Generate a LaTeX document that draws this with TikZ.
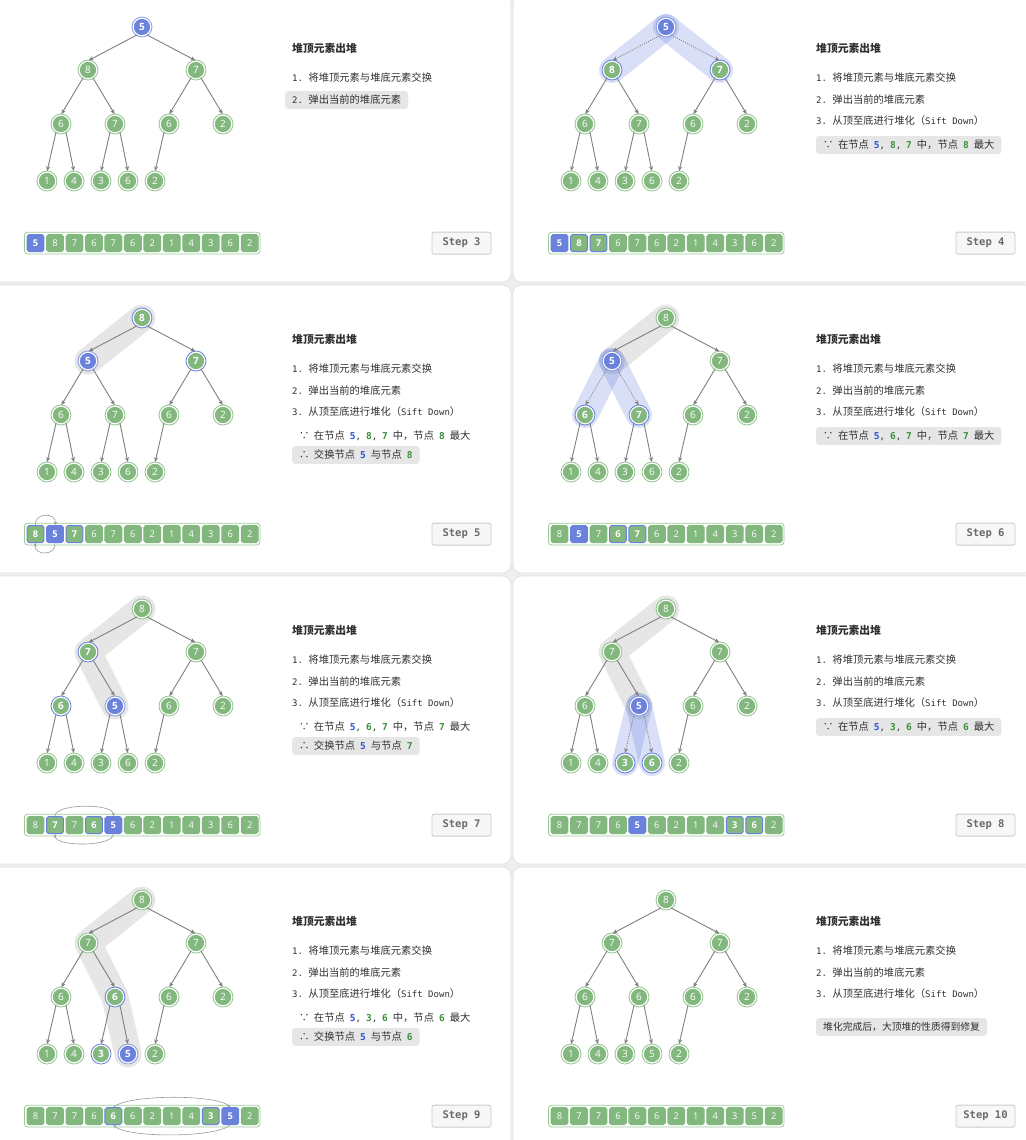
\documentclass[tikz,border=0pt]{standalone}
\usepackage{fontspec}
\setmainfont{Noto Sans CJK SC}
\newfontfamily\mono{DejaVu Sans Mono}
\newfontfamily\numfont{Open Sans}
\usetikzlibrary{arrows.meta}
\pgfdeclarelayer{card}
\pgfdeclarelayer{bg}
\pgfsetlayers{card,bg,main}
\definecolor{G}{HTML}{82B77E}
\definecolor{GR}{HTML}{93C48F}
\definecolor{B}{HTML}{6A82DC}
\definecolor{BR}{HTML}{6A82DC}
\definecolor{BL}{HTML}{8A9DE4}
\definecolor{txt}{HTML}{303030}
\definecolor{hlbg}{HTML}{E6E6E6}
\definecolor{tblue}{HTML}{2D55D8}
\definecolor{tgreen}{HTML}{3E8F3E}
\definecolor{edgec}{HTML}{7F7F7F}
\definecolor{pagebg}{HTML}{EFEFEF}
\definecolor{cardline}{HTML}{E0E0E0}
\definecolor{gbandc}{HTML}{E6E6E6}
\definecolor{arrline}{HTML}{9CCB98}
\definecolor{stepfill}{HTML}{F7F7F7}
\definecolor{stepline}{HTML}{CCCCCC}
\definecolor{steptext}{HTML}{6A6A6A}
\definecolor{swapc}{HTML}{9A9A9A}
\def\PX{{142,88,196,61,115,169,223,47,74,101,128,155}}
\def\PY{{27,70,70,124,124,124,124,181,181,181,181,181}}
\newcommand\setkind[1]{%
 \if#1g\def\kfill{G}\def\kring{GR}\def\kcell{G}\def\kfont{}\fi
 \if#1r\def\kfill{G}\def\kring{BR}\def\kcell{B}\def\kfont{\bfseries}\fi
 \if#1b\def\kfill{B}\def\kring{BL}\def\kcell{B}\def\kfont{\bfseries}\fi}
\newcommand\ms[1]{{\mono\fontsize{9}{10}\selectfont #1}}
\newcommand\gapsp{\hspace{5pt}}
\newcommand\numB[1]{{\mono\fontsize{9.5}{10}\selectfont\bfseries\color{tblue}#1}}
\newcommand\numG[1]{{\mono\fontsize{9.5}{10}\selectfont\bfseries\color{tgreen}#1}}
\newcommand\LA{\ms{1.\ }将堆顶元素与堆底元素交换}
\newcommand\LB{\ms{2.\ }弹出当前的堆底元素}
\newcommand\LC{\ms{3.\ }从顶至底进行堆化（\ms{Sift Down}）}
\newcommand\becl[4]{∵\hspace{4.5pt}在节点\gapsp\numB{#1}\ms{,}\gapsp\numG{#2}\ms{,}\gapsp\numG{#3}\gapsp 中，节点\gapsp\numG{#4}\gapsp 最大}
\newcommand\thrl[2]{∴\hspace{4.5pt}交换节点\gapsp\numB{#1}\gapsp 与节点\gapsp\numG{#2}}
\newcommand\panel[7]{%
\foreach \v/\k [count=\i from 0] in {#2}{%
  \setkind{\k}%
  \pgfmathsetmacro\xx{\PX[\i]}%
  \pgfmathsetmacro\yy{\PY[\i]}%
  \node[tnode,fill=\kfill,font={\numfont\fontsize{10}{10}\selectfont\kfont}] (#1n\i) at (\xx,\yy) {\v};
  \draw[draw=\kring,line width=0.8pt] (#1n\i.center) circle[radius=10pt];
}
\foreach \c in {1,...,11}{%
  \pgfmathtruncatemacro\pp{(\c-1)/2}%
  \pgfmathtruncatemacro\lft{mod(\c,2)}%
  \ifnum\lft=1 \def\pang{-122}\else\def\pang{-58}\fi
  \ifnum\c=#4\relax \draw[dedge] (#1n\pp.\pang) -- (#1n\c.north);%
  \else\ifnum\c=#5\relax \draw[dedge] (#1n\pp.\pang) -- (#1n\c.north);%
  \else \draw[edge] (#1n\pp.\pang) -- (#1n\c.north);\fi\fi
}
\node[arrbox] (#1arr) at (142.2,243.1) {};
\foreach \v/\k [count=\i from 0] in {#3}{%
  \setkind{\k}%
  \pgfmathsetmacro\xx{35.5+19.47*\i}%
  \node[cell,fill=\kfill,draw=\kcell,font={\numfont\fontsize{9.3}{10}\selectfont\kfont}] (#1c\i) at (\xx,243.1) {\v};
}
\node[steplbl] (#1s) at (461.5,243.1) {Step #6};
\node[title] (#1t) at (292,48) {堆顶元素出堆};
\node[tl] (#1a) at (285,78) {\LA};
\node[tl#7] (#1b) at (285,100) {\LB};
}
\begin{document}
\begin{tikzpicture}[x=1pt,y=-1pt,
  tnode/.style={circle,minimum size=17.5pt,inner sep=0pt,draw=white,line width=1pt,text=white},
  cell/.style={rectangle,minimum size=16.8pt,inner sep=0pt,rounded corners=1.8pt,line width=1pt,text=white},
  arrbox/.style={draw=arrline,fill=white,line width=0.8pt,rounded corners=3pt,minimum width=235.5pt,minimum height=21.7pt,inner sep=0pt},
  edge/.style={draw=edgec,line width=0.9pt,-{Stealth[length=5pt,width=4pt]},shorten >=0.6pt},
  dedge/.style={edge,line width=0.8pt,dash pattern=on 1pt off 1.3pt},
  steplbl/.style={draw=stepline,fill=stepfill,line width=0.8pt,rounded corners=2pt,minimum width=59pt,minimum height=22pt,inner sep=0pt,text=steptext,font={\mono\fontsize{10.5}{12}\selectfont\bfseries}},
  title/.style={anchor=west,inner sep=0pt,text=txt,font={\fontsize{10.8}{12}\selectfont\bfseries}},
  tl/.style={anchor=west,inner xsep=7pt,inner ysep=3.6pt,text height=8.4pt,text depth=2.2pt,rounded corners=3pt,text=txt,font={\fontsize{10.3}{12}\selectfont}},
  hl/.style={fill=hlbg},
  gband/.style={draw=gbandc,line width=27pt,line cap=round,line join=round},
  bband/.style={draw=B,opacity=0.25,line width=26pt,line cap=round},
  swp/.style={draw=swapc,line width=0.6pt,-{Stealth[length=3.5pt,width=3pt]}},
  card/.style={fill=white,draw=cardline,line width=0.8pt,rounded corners=8pt}]
\useasboundingbox (0,0) rectangle (1025,1140);
\begin{pgfonlayer}{card}
\fill[pagebg] (0,0) rectangle (1025,1140);
\foreach \r in {0,1,2,3}{
  \draw[card] (-10,291*\r-6) rectangle (511,291*\r+282);
  \draw[card] (513,291*\r-6) rectangle (1035,291*\r+282);
}
\end{pgfonlayer}
% ---------- Step 3
\begin{scope}[shift={(0,0)}]
\panel{pa}{5/b,8/g,7/g,6/g,7/g,6/g,2/g,1/g,4/g,3/g,6/g,2/g}{5/b,8/g,7/g,6/g,7/g,6/g,2/g,1/g,4/g,3/g,6/g,2/g}{-1}{-1}{3}{,hl}
\end{scope}
% ---------- Step 4
\begin{scope}[shift={(524,0)}]
\panel{pb}{5/b,8/r,7/r,6/g,7/g,6/g,2/g,1/g,4/g,3/g,6/g,2/g}{5/b,8/r,7/r,6/g,7/g,6/g,2/g,1/g,4/g,3/g,6/g,2/g}{1}{2}{4}{}
\node[tl] (pbc) at (285,121) {\LC};
\node[tl,hl] (pbd) at (292,145) {\becl{5}{8}{7}{8}};
\begin{pgfonlayer}{bg}
\draw[bband] (pbn0.center) -- (pbn1.center);
\draw[bband] (pbn0.center) -- (pbn2.center);
\end{pgfonlayer}
\end{scope}
% ---------- Step 5
\begin{scope}[shift={(0,291)}]
\panel{pc}{8/r,5/b,7/r,6/g,7/g,6/g,2/g,1/g,4/g,3/g,6/g,2/g}{8/r,5/b,7/r,6/g,7/g,6/g,2/g,1/g,4/g,3/g,6/g,2/g}{-1}{-1}{5}{}
\node[tl] (pcc) at (285,121) {\LC};
\node[tl] (pcd) at (292,145) {\becl{5}{8}{7}{8}};
\node[tl,hl] (pce) at (292,164) {\thrl{5}{8}};
\begin{pgfonlayer}{bg}
\draw[gband] (pcn0.center) -- (pcn1.center);
\end{pgfonlayer}
\draw[swp] (pcc0.north) .. controls +(-2,-13) and +(2,-13) .. (pcc1.north);
\draw[swp] (pcc1.south) .. controls +(2,13) and +(-2,13) .. (pcc0.south);
\end{scope}
% ---------- Step 6
\begin{scope}[shift={(524,291)}]
\panel{pd}{8/g,5/b,7/g,6/r,7/r,6/g,2/g,1/g,4/g,3/g,6/g,2/g}{8/g,5/b,7/g,6/r,7/r,6/g,2/g,1/g,4/g,3/g,6/g,2/g}{3}{4}{6}{}
\node[tl] (pdc) at (285,121) {\LC};
\node[tl,hl] (pdd) at (292,145) {\becl{5}{6}{7}{7}};
\begin{pgfonlayer}{bg}
\draw[gband] (pdn0.center) -- (pdn1.center);
\draw[bband] (pdn1.center) -- (pdn3.center);
\draw[bband] (pdn1.center) -- (pdn4.center);
\end{pgfonlayer}
\end{scope}
% ---------- Step 7
\begin{scope}[shift={(0,582)}]
\panel{pe}{8/g,7/r,7/g,6/r,5/b,6/g,2/g,1/g,4/g,3/g,6/g,2/g}{8/g,7/r,7/g,6/r,5/b,6/g,2/g,1/g,4/g,3/g,6/g,2/g}{-1}{-1}{7}{}
\node[tl] (pec) at (285,121) {\LC};
\node[tl] (ped) at (292,145) {\becl{5}{6}{7}{7}};
\node[tl,hl] (pee) at (292,164) {\thrl{5}{7}};
\begin{pgfonlayer}{bg}
\draw[gband] (pen0.center) -- (pen1.center) -- (pen4.center);
\end{pgfonlayer}
\draw[swp] (pec1.north) .. controls +(0,-13) and +(0,-13) .. (pec4.north);
\draw[swp] (pec4.south) .. controls +(0,13) and +(0,13) .. (pec1.south);
\end{scope}
% ---------- Step 8
\begin{scope}[shift={(524,582)}]
\panel{pf}{8/g,7/g,7/g,6/g,5/b,6/g,2/g,1/g,4/g,3/r,6/r,2/g}{8/g,7/g,7/g,6/g,5/b,6/g,2/g,1/g,4/g,3/r,6/r,2/g}{9}{10}{8}{}
\node[tl] (pfc) at (285,121) {\LC};
\node[tl,hl] (pfd) at (292,145) {\becl{5}{3}{6}{6}};
\begin{pgfonlayer}{bg}
\draw[gband] (pfn0.center) -- (pfn1.center) -- (pfn4.center);
\draw[bband] (pfn4.center) -- (pfn9.center);
\draw[bband] (pfn4.center) -- (pfn10.center);
\end{pgfonlayer}
\end{scope}
% ---------- Step 9
\begin{scope}[shift={(0,873)}]
\panel{pg}{8/g,7/g,7/g,6/g,6/r,6/g,2/g,1/g,4/g,3/r,5/b,2/g}{8/g,7/g,7/g,6/g,6/r,6/g,2/g,1/g,4/g,3/r,5/b,2/g}{-1}{-1}{9}{}
\node[tl] (pgc) at (285,121) {\LC};
\node[tl] (pgd) at (292,145) {\becl{5}{3}{6}{6}};
\node[tl,hl] (pge) at (292,164) {\thrl{5}{6}};
\begin{pgfonlayer}{bg}
\draw[gband] (pgn0.center) -- (pgn1.center) -- (pgn4.center) -- (pgn10.center);
\end{pgfonlayer}
\draw[swp] (pgc4.north) .. controls +(14,-13) and +(-14,-13) .. (pgc10.north);
\draw[swp] (pgc10.south) .. controls +(-14,13) and +(14,13) .. (pgc4.south);
\end{scope}
% ---------- Step 10
\begin{scope}[shift={(524,873)}]
\panel{ph}{8/g,7/g,7/g,6/g,6/g,6/g,2/g,1/g,4/g,3/g,5/g,2/g}{8/g,7/g,7/g,6/g,6/g,6/g,2/g,1/g,4/g,3/g,5/g,2/g}{-1}{-1}{10}{}
\node[tl] (phc) at (285,121) {\LC};
\node[tl,hl,font={\fontsize{9.8}{12}\selectfont}] (phd) at (292,154) {堆化完成后，大顶堆的性质得到修复};
\end{scope}
\end{tikzpicture}
\end{document}
